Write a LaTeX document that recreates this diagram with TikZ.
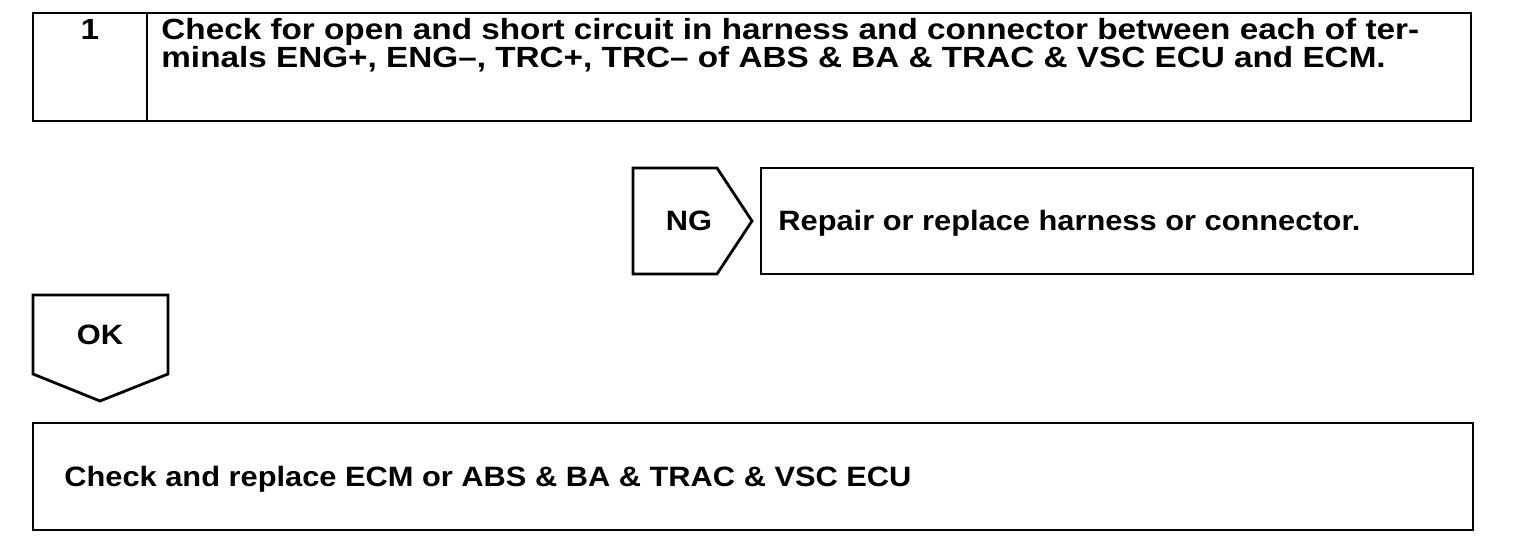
\documentclass[tikz,border=0pt]{standalone}
\usepackage{fontspec}
\setmainfont{Liberation Sans}
\newfontfamily\boxfont[FakeStretch=1.1]{Liberation Sans}
\newfontfamily\headfont[FakeStretch=1.14]{Liberation Sans}
\begin{document}
\begin{tikzpicture}[x=0.5pt,y=-0.5pt,line width=1.4pt,line join=miter,
    txt/.style={font=\boxfont\bfseries\fontsize{14}{14}\selectfont,inner sep=0pt,anchor=base west},
    head/.style={font=\headfont\bfseries\fontsize{14.6}{14}\selectfont,inner sep=0pt,anchor=base west}]
    \useasboundingbox (0,0) rectangle (1520,550);
    % step 1
    \draw (33,13) rectangle (1471,121);
    \draw (147,13) -- (147,121);
    \node[head,anchor=base] (num) at (90,40) {1};
    \node[head] (chk1) at (160,40) {Check for open and short circuit in harness and connector between each of ter-};
    \node[head] (chk2) at (160,68) {minals ENG+, ENG\textendash, TRC+, TRC\textendash\ of ABS \& BA \& TRAC \& VSC ECU and ECM.};
    % NG branch
    \draw (633,168) -- (717,168) -- (752,221) -- (717,274) -- (633,274) -- cycle;
    \node[txt,anchor=base] (ng) at (689,231) {NG};
    \draw (761,168) rectangle (1473,274);
    \node[txt] (repair) at (777,231) {Repair or replace harness or connector.};
    % OK branch
    \draw (33,295) -- (168,295) -- (168,374) -- (100,401) -- (33,374) -- cycle;
    \node[txt,anchor=base] (ok) at (100,345) {OK};
    \draw (33,423) rectangle (1473,530);
    \node[txt] (ecm) at (63,487) {Check and replace ECM or ABS \& BA \& TRAC \& VSC ECU};
\end{tikzpicture}
\end{document}
